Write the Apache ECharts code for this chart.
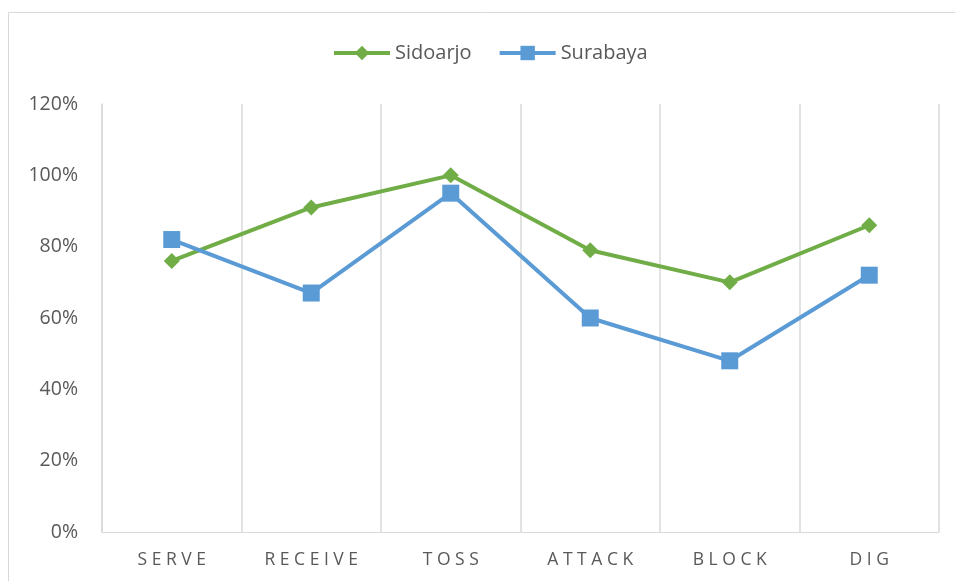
<!DOCTYPE html>
<html><head><meta charset="utf-8">
<script src="https://cdn.jsdelivr.net/npm/echarts@6/dist/echarts.min.js"></script>
<style>html,body{margin:0;padding:0;background:#fff}#c{width:955px;height:581px}</style>
</head><body><div id="c"></div>
<script>
const categories = ['SERVE', 'RECEIVE', 'TOSS', 'ATTACK', 'BLOCK', 'DIG'];
const sidoarjo = [76, 91, 100, 79, 70, 86];
const surabaya = [82, 67, 95, 60, 48, 72];
const yTicks = [0, 20, 40, 60, 80, 100, 120];

const chart = echarts.init(document.getElementById('c'), null, {renderer: 'canvas'});
const font = '"Open Sans", "Liberation Sans", sans-serif';
chart.setOption({
  animation: false,
  backgroundColor: '#fff',
  graphic: [{type: 'rect', shape: {x: 8.5, y: 12.5, width: 1000, height: 700}, style: {fill: 'none', stroke: '#d9d9d9', lineWidth: 1}, silent: true}],
  legend: {
    top: 38, left: 327, itemWidth: 56, itemHeight: 18, itemGap: 26,
    textStyle: {fontFamily: font, fontSize: 20, color: '#595959'},
    lineStyle: {width: 4},
    data: [{name: 'Sidoarjo'}, {name: 'Surabaya'}]
  },
  grid: {left: 102, right: 16, top: 104, bottom: 49},
  xAxis: {
    type: 'category', data: categories, boundaryGap: true,
    axisLine: {show: true, lineStyle: {color: '#d9d9d9', width: 1}},
    axisTick: {show: false},
    splitLine: {show: true, interval: 0, lineStyle: {color: '#d9d9d9', width: 1.5}},
    axisLabel: {interval: 0, margin: 19, fontFamily: font, fontSize: 17.5, color: '#595959',
      formatter: v => v.split('').join(' ')}
  },
  yAxis: {
    type: 'value', min: yTicks[0], max: yTicks[yTicks.length - 1], interval: 20,
    axisLine: {show: true, lineStyle: {color: '#d9d9d9', width: 1.5}},
    axisTick: {show: false},
    splitLine: {show: false},
    axisLabel: {margin: 24, fontFamily: font, fontSize: 19.5, color: '#595959', formatter: v => v + '%'}
  },
  series: [
    {name: 'Sidoarjo', type: 'line', data: sidoarjo, symbol: 'diamond', symbolSize: 16,
      lineStyle: {color: '#70AD47', width: 4}, itemStyle: {color: '#70AD47'}},
    {name: 'Surabaya', type: 'line', data: surabaya, symbol: 'rect', symbolSize: 17,
      lineStyle: {color: '#5B9BD5', width: 4}, itemStyle: {color: '#5B9BD5'}}
  ]
});
</script></body></html>
